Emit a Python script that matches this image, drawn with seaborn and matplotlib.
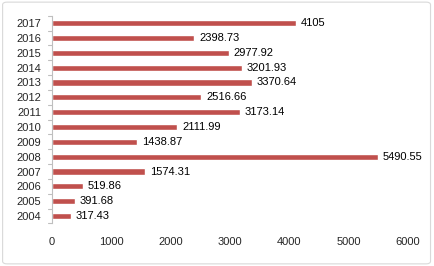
import matplotlib
matplotlib.use("Agg")
import matplotlib.pyplot as plt
import seaborn as sns
import pandas as pd
from matplotlib.patches import FancyBboxPatch

# data
years = ["2017", "2016", "2015", "2014", "2013", "2012", "2011",
         "2010", "2009", "2008", "2007", "2006", "2005", "2004"]
values = [4105, 2398.73, 2977.92, 3201.93, 3370.64, 2516.66, 3173.14,
          2111.99, 1438.87, 5490.55, 1574.31, 519.86, 391.68, 317.43]
value_labels = ["4105", "2398.73", "2977.92", "3201.93", "3370.64", "2516.66", "3173.14",
                "2111.99", "1438.87", "5490.55", "1574.31", "519.86", "391.68", "317.43"]
x_ticks = [0, 1000, 2000, 3000, 4000, 5000, 6000]

df = pd.DataFrame({"year": years, "value": values})

sns.set_style("white")
plt.rcParams["font.family"] = ["Liberation Sans", "DejaVu Sans"]

fig = plt.figure(figsize=(4.34, 2.66), dpi=100)
ax = fig.add_axes([0.12, 0.16, 0.82, 0.781])

sns.barplot(data=df, x="value", y="year", order=years, orient="h",
            color="#C0504D", saturation=1, width=0.42, ax=ax)

for i, (v, lab) in enumerate(zip(values, value_labels)):
    ax.text(v + 80, i, lab, va="center", ha="left", fontsize=8, color="black")

ax.set_xlim(0, 6000)
ax.set_xticks(x_ticks)
ax.set_xticklabels([str(t) for t in x_ticks], fontsize=8)
ax.set_ylim(len(years) - 0.5, -0.5)
ax.tick_params(axis="y", labelsize=8, length=0, pad=8)
ax.tick_params(axis="x", length=0, pad=10)
ax.set_xlabel("")
ax.set_ylabel("")

for s in ["top", "right", "bottom"]:
    ax.spines[s].set_visible(False)
ax.spines["left"].set_color("#BFBFBF")
ax.spines["left"].set_linewidth(0.8)

# small category separator ticks on the y axis
for b in [k + 0.5 for k in range(-1, len(years))]:
    ax.plot([-0.012, 0], [b, b], transform=ax.get_yaxis_transform(),
            color="#BFBFBF", lw=0.8, clip_on=False)

# light frame around the chart area
frame = FancyBboxPatch((0.006, 0.008), 0.986, 0.984, boxstyle="round,pad=0,rounding_size=0.01",
                       transform=fig.transFigure, fill=False, edgecolor="#D9D9D9", lw=0.8)
fig.patches.append(frame)

fig.savefig("out.png", dpi=100)
